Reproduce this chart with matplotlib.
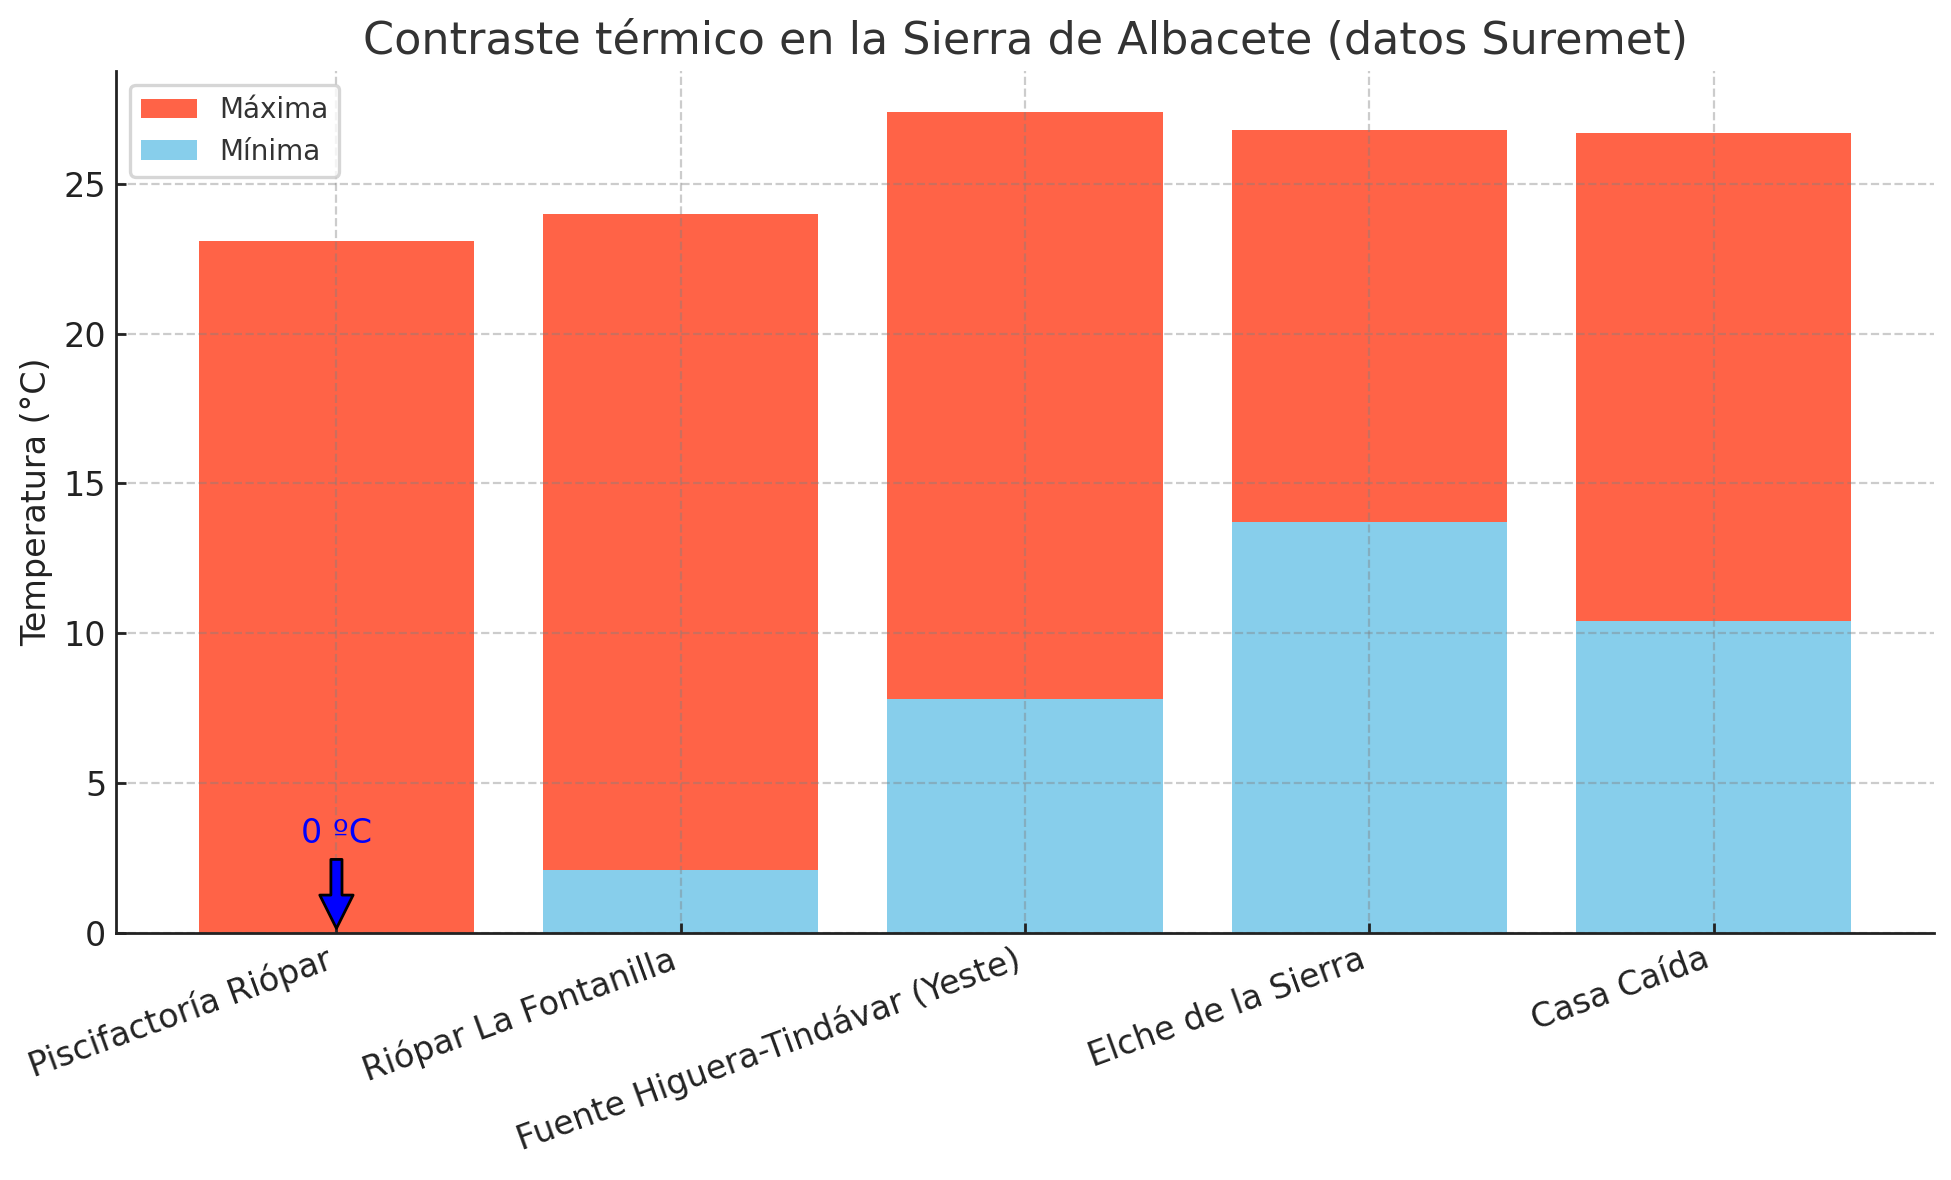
import numpy as np
import matplotlib
matplotlib.use('Agg')
import matplotlib.pyplot as plt

estaciones = ['Piscifactoría Riópar', 'Riópar La Fontanilla',
              'Fuente Higuera-Tindávar (Yeste)', 'Elche de la Sierra', 'Casa Caída']
t_max = [23.1, 24.0, 27.4, 26.8, 26.7]
t_min = [0.0, 2.1, 7.8, 13.7, 10.4]

COL_MAX = '#FF6347'
COL_MIN = '#87CEEB'

plt.rcParams['font.family'] = ['DejaVu Sans']
plt.rcParams['axes.edgecolor'] = '#222222'
plt.rcParams['xtick.color'] = '#222222'
plt.rcParams['ytick.color'] = '#222222'

fig = plt.figure(figsize=(1951/200, 1180/200), dpi=200)
ax = fig.add_axes([0.0595, 0.2097, 0.9318, 0.7301])

x = np.arange(len(estaciones))
ax.bar(x, t_max, width=0.8, color=COL_MAX, label='Máxima')
ax.bar(x, t_min, width=0.8, color=COL_MIN, label='Mínima')

ax.annotate('0 ºC', xy=(0, 0), xytext=(0, 3), ha='center', color='blue', fontsize=12,
            arrowprops=dict(facecolor='blue', shrink=0.05))

ax.set_title('Contraste térmico en la Sierra de Albacete (datos Suremet)',
             fontsize=16, color='#333333')
ax.set_ylabel('Temperatura (°C)', fontsize=12, color='#222222')
ax.set_xticks(x)
ax.set_xticklabels(estaciones, rotation=20, ha='right')
ax.tick_params(axis='both', direction='in', length=3.5, width=1, labelsize=12)

for s in ['top', 'right']:
    ax.spines[s].set_visible(False)
for s in ['left', 'bottom']:
    ax.spines[s].set_linewidth(1.0)

ax.grid(True, linestyle='--', color='gray', alpha=0.4, linewidth=0.8)

leg = ax.legend(loc='upper left', fontsize=10, frameon=True, fancybox=True)
leg.get_frame().set_edgecolor('#cccccc')
leg.get_frame().set_linewidth(1.2)
for t in leg.get_texts():
    t.set_color('#333333')

fig.savefig('out.png', dpi=200)
